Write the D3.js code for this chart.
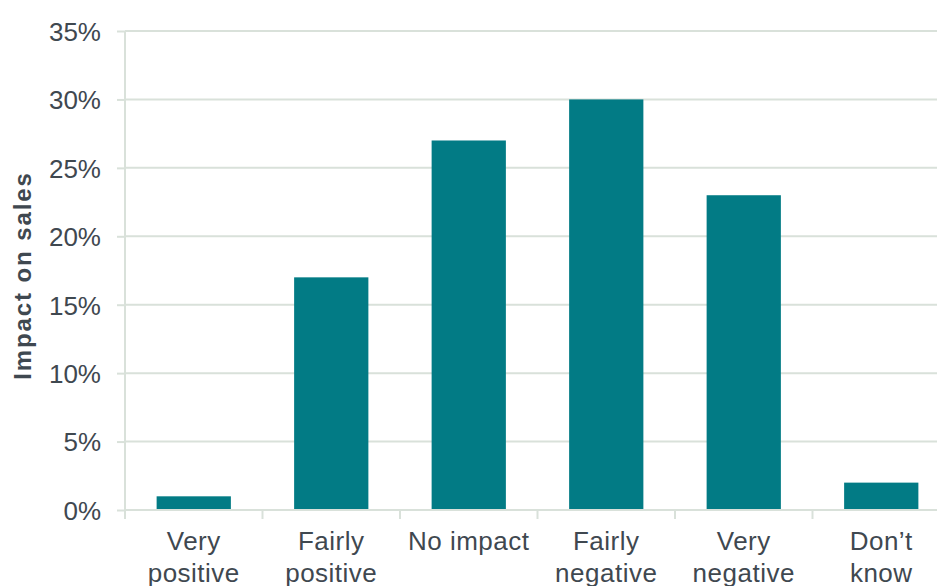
<!DOCTYPE html>
<html>
<head>
<meta charset="utf-8">
<script src="https://cdn.jsdelivr.net/npm/d3@7"></script>
<style>
  html, body { margin: 0; padding: 0; background: #ffffff; overflow: hidden; }
  svg { display: block; }
  text { font-family: "Liberation Sans", Arial, sans-serif; fill: #3f4850; }
</style>
</head>
<body>
<svg id="chart" width="937" height="586"></svg>
<script>
// Survey answers: reported impact on sales
const categories = ["Very\npositive", "Fairly\npositive", "No impact", "Fairly\nnegative", "Very\nnegative", "Don’t\nknow"];
const shares = [0.01, 0.17, 0.27, 0.30, 0.23, 0.02];
const yTicks = [0, 0.05, 0.10, 0.15, 0.20, 0.25, 0.30, 0.35];
const yTitle = "Impact on sales";

const svg = d3.select("#chart");
const plotLeft = 125, plotRight = 950, plotTop = 31, plotBottom = 510;

const x = d3.scaleBand()
  .domain(categories)
  .range([plotLeft, plotRight])
  .paddingInner(0.46)
  .paddingOuter(0.23);

const y = d3.scaleLinear()
  .domain([0, 0.35])
  .range([plotBottom, plotTop]);

const gridColor = "#d9e1da";

// Horizontal gridlines
svg.append("g")
  .selectAll("line")
  .data(yTicks.filter(t => t > 0))
  .join("line")
  .attr("x1", plotLeft).attr("x2", plotRight)
  .attr("y1", d => y(d)).attr("y2", d => y(d))
  .attr("stroke", gridColor)
  .attr("stroke-width", 2);

// Y axis with percent labels
const yAxis = d3.axisLeft(y)
  .tickValues(yTicks)
  .tickFormat(d3.format(".0%"))
  .tickSize(8)
  .tickPadding(16);

const gy = svg.append("g")
  .attr("transform", `translate(${plotLeft},0)`)
  .call(yAxis);
gy.select(".domain").attr("stroke", gridColor).attr("stroke-width", 2)
  .attr("d", `M0,${plotTop}V${plotBottom + 9}`);
gy.selectAll(".tick line").attr("stroke", gridColor).attr("stroke-width", 2);
gy.selectAll(".tick text")
  .style("font-size", "26px")
  .attr("fill", "#3f4850")
  .attr("dy", "0.36em");

// Bars
svg.append("g")
  .selectAll("rect")
  .data(categories.map((c, i) => ({ c, v: shares[i] })))
  .join("rect")
  .attr("x", d => x(d.c))
  .attr("width", x.bandwidth())
  .attr("y", d => y(d.v))
  .attr("height", d => y(0) - y(d.v))
  .attr("fill", "#027b85");

// Category axis: baseline, tick marks between categories, wrapped labels
const step = x.step();
const gx = svg.append("g");
gx.append("line")
  .attr("x1", plotLeft).attr("x2", plotRight)
  .attr("y1", plotBottom).attr("y2", plotBottom)
  .attr("stroke", gridColor).attr("stroke-width", 2);
gx.selectAll("line.sep")
  .data(d3.range(categories.length + 1))
  .join("line")
  .attr("class", "sep")
  .attr("x1", i => plotLeft + i * step).attr("x2", i => plotLeft + i * step)
  .attr("y1", plotBottom).attr("y2", plotBottom + 9)
  .attr("stroke", gridColor).attr("stroke-width", 2);

const labels = gx.selectAll("text.cat")
  .data(categories)
  .join("text")
  .attr("class", "cat")
  .attr("text-anchor", "middle")
  .attr("x", d => x(d) + x.bandwidth() / 2)
  .attr("y", 550)
  .style("font-size", "26px")
  .style("letter-spacing", "0.5px");
labels.selectAll("tspan")
  .data(d => d.split("\n").map(t => ({ t, parent: d })))
  .join("tspan")
  .attr("x", d => x(d.parent) + x.bandwidth() / 2)
  .attr("dy", (d, i) => i === 0 ? 0 : 32)
  .text(d => d.t);

// Y axis title
svg.append("text")
  .attr("transform", `translate(31,${(plotTop + plotBottom) / 2 + 5}) rotate(-90)`)
  .attr("text-anchor", "middle")
  .style("font-size", "24px")
  .style("font-weight", "bold")
  .style("letter-spacing", "1.9px")
  .text(yTitle);
</script>
</body>
</html>
